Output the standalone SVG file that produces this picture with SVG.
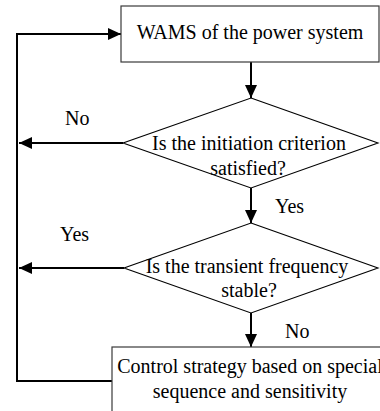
<svg xmlns="http://www.w3.org/2000/svg" width="380" height="411" viewBox="0 0 380 411">
  <style>
    .box { fill: #ffffff; stroke: #3a3a3a; stroke-width: 1.2; }
    .dia { fill: #ffffff; stroke: #000000; stroke-width: 1.1; }
    .conn { fill: none; stroke: #000000; stroke-width: 2; }
    .t { font-family: 'Liberation Serif', 'DejaVu Serif', serif; font-size: 20px; fill: #000000; }
    .c { text-anchor: middle; }
  </style>
  <defs>
    <marker id="arrow" markerUnits="userSpaceOnUse" markerWidth="13" markerHeight="12" refX="13" refY="6" orient="auto">
      <path d="M0,0 L13,6 L0,12 Z" fill="#000000"/>
    </marker>
  </defs>

  <!-- connectors -->
  <g id="connectors">
    <line class="conn" x1="251" y1="62" x2="251" y2="98" marker-end="url(#arrow)"/>
    <line class="conn" x1="251" y1="188" x2="251" y2="223" marker-end="url(#arrow)"/>
    <line class="conn" x1="251" y1="313" x2="251" y2="347" marker-end="url(#arrow)"/>
    <line class="conn" x1="123" y1="143" x2="19" y2="143" marker-end="url(#arrow)"/>
    <line class="conn" x1="124" y1="268" x2="19" y2="268" marker-end="url(#arrow)"/>
    <polyline class="conn" points="112,381 17,381 17,34 121,34" marker-end="url(#arrow)"/>
    <text class="t" x="65" y="125">No</text>
    <text class="t" x="275" y="213">Yes</text>
    <text class="t" x="60" y="241">Yes</text>
    <text class="t" x="285" y="338">No</text>
  </g>

  <!-- process: WAMS -->
  <g id="wams">
    <rect class="box" x="121" y="6" width="258" height="56"/>
    <text class="t c" x="250" y="39">WAMS of the power system</text>
  </g>

  <!-- decision: initiation criterion -->
  <g id="initiation">
    <polygon class="dia" points="251,98 378,143 251,188 123,143"/>
    <text class="t c" x="249" y="150">Is the initiation criterion</text>
    <text class="t c" x="248" y="175">satisfied?</text>
  </g>

  <!-- decision: transient frequency -->
  <g id="frequency">
    <polygon class="dia" points="251,223 378,268 251,313 124,268"/>
    <text class="t c" x="247" y="273">Is the transient frequency</text>
    <text class="t c" x="249" y="297">stable?</text>
  </g>

  <!-- process: control strategy (runs past the right edge) -->
  <g id="control">
    <rect class="box" x="112" y="347" width="290" height="80"/>
    <text class="t c" x="250" y="373">Control strategy based on special</text>
    <text class="t c" x="250" y="398">sequence and sensitivity</text>
  </g>
</svg>
